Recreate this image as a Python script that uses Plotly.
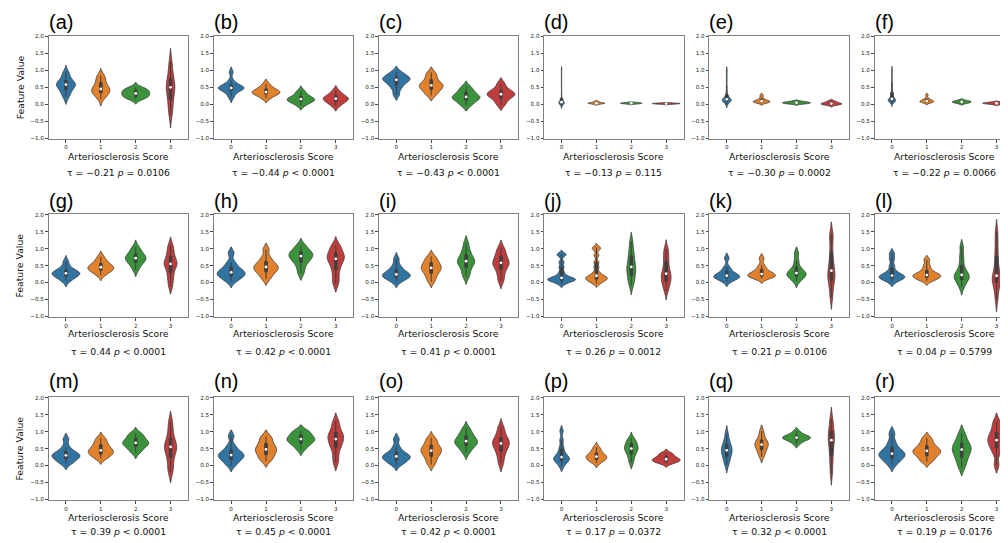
import numpy as np
import plotly.graph_objects as go

PAGE_W, PAGE_H = 1008, 543
OFF = 8                      # default body margin of the html page
W, H = PAGE_W - OFF, PAGE_H - OFF

panel_labels = ["(a)", "(b)", "(c)", "(d)", "(e)", "(f)",
                "(g)", "(h)", "(i)", "(j)", "(k)", "(l)",
                "(m)", "(n)", "(o)", "(p)", "(q)", "(r)"]
categories = [0, 1, 2, 3]
category_text = ["0", "1", "2", "3"]
colors = ["#3274a1", "#e1812c", "#3a923a", "#c03d3e"]

tau = [-0.21, -0.44, -0.43, -0.13, -0.30, -0.22,
       0.44, 0.42, 0.41, 0.26, 0.21, 0.04,
       0.39, 0.45, 0.42, 0.17, 0.32, 0.19]
p_text = ["= 0.0106", "< 0.0001", "< 0.0001", "= 0.115", "= 0.0002", "= 0.0066",
          "< 0.0001", "< 0.0001", "< 0.0001", "= 0.0012", "= 0.0106", "= 0.5799",
          "< 0.0001", "< 0.0001", "< 0.0001", "= 0.0372", "< 0.0001", "= 0.0176"]

ytick_vals = [-1.0, -0.5, 0.0, 0.5, 1.0, 1.5, 2.0]
ytick_text = ["\u22121.0", "\u22120.5", "0.0", "0.5", "1.0", "1.5", "2.0"]

# feature values per score group (0,1,2,3) for each panel
vals_a = [[0.2, 0.3, 0.38, 0.45, 0.5, 0.55, 0.58, 0.6, 0.63, 0.68, 0.75, 0.85, 0.95],
          [0.15, 0.25, 0.3, 0.35, 0.38, 0.42, 0.45, 0.5, 0.55, 0.62, 0.7, 0.8, 0.85],
          [0.15, 0.2, 0.22, 0.25, 0.3, 0.32, 0.35, 0.4, 0.42, 0.45, 0.5],
          [-0.3, -0.1, 0.1, 0.25, 0.4, 0.5, 0.55, 0.65, 0.8, 1.0, 1.25]]
vals_b = [[0.2, 0.3, 0.38, 0.42, 0.45, 0.47, 0.48, 0.5, 0.52, 0.55, 0.6, 0.7, 0.95],
          [0.18, 0.25, 0.3, 0.33, 0.35, 0.37, 0.4, 0.45, 0.5, 0.6],
          [-0.03, 0.03, 0.08, 0.1, 0.13, 0.15, 0.17, 0.2, 0.25, 0.32, 0.4],
          [-0.05, 0.03, 0.08, 0.12, 0.15, 0.18, 0.2, 0.25, 0.3, 0.4]]
vals_c = [[0.28, 0.45, 0.55, 0.62, 0.68, 0.72, 0.75, 0.78, 0.82, 0.88, 0.96],
          [0.26, 0.35, 0.42, 0.48, 0.52, 0.56, 0.6, 0.66, 0.74, 0.84, 0.94],
          [-0.04, 0.05, 0.12, 0.17, 0.2, 0.23, 0.28, 0.35, 0.42, 0.52],
          [-0.02, 0.1, 0.18, 0.24, 0.28, 0.31, 0.35, 0.4, 0.48, 0.62]]
vals_d = [[-0.05, -0.03, -0.02, -0.01, 0.0, 0.01, 0.01, 0.02, 0.02, 0.03, 0.03, 0.03, 0.04,
           0.04, 0.04, 0.05, 0.05, 0.05, 0.06, 0.06, 0.06, 0.07, 0.07, 0.08, 0.08, 0.09, 0.1,
           0.11, 0.13, 0.15, 0.2, 0.3, 0.4, 0.5, 0.6, 0.7, 0.8, 0.9, 1.0, 1.04],
          [-0.005, 0.01, 0.02, 0.025, 0.03, 0.035, 0.04, 0.05, 0.065, 0.09],
          [0.005, 0.015, 0.022, 0.028, 0.033, 0.038, 0.045, 0.055],
          [0.0, 0.008, 0.014, 0.018, 0.022, 0.026, 0.031, 0.038]]
vals_e = [[-0.02, 0.01, 0.03, 0.05, 0.06, 0.07, 0.08, 0.09, 0.1, 0.1, 0.11, 0.11, 0.12, 0.12,
           0.13, 0.13, 0.14, 0.14, 0.15, 0.16, 0.17, 0.18, 0.19, 0.2, 0.22, 0.24, 0.27, 0.3,
           0.36, 0.45, 0.55, 0.65, 0.75, 0.85, 0.95, 1.02],
          [0.03, 0.05, 0.06, 0.07, 0.08, 0.09, 0.1, 0.12, 0.15, 0.2, 0.27],
          [0.01, 0.02, 0.03, 0.04, 0.05, 0.06, 0.07, 0.09],
          [-0.03, -0.01, 0.0, 0.01, 0.02, 0.03, 0.05, 0.07, 0.1]]
vals_f = [[0.02, 0.04, 0.06, 0.07, 0.08, 0.09, 0.1, 0.1, 0.11, 0.11, 0.12, 0.12, 0.13, 0.13,
           0.14, 0.15, 0.16, 0.17, 0.18, 0.2, 0.22, 0.25, 0.28, 0.32, 0.38, 0.45, 0.55, 0.65,
           0.75, 0.85, 0.95, 1.03],
          [0.04, 0.06, 0.07, 0.08, 0.09, 0.1, 0.12, 0.14, 0.18, 0.27],
          [0.02, 0.04, 0.05, 0.06, 0.07, 0.08, 0.09, 0.1, 0.12],
          [0.0, 0.01, 0.02, 0.025, 0.03, 0.035, 0.04, 0.05, 0.06]]
vals_g = [[0.05, 0.12, 0.18, 0.22, 0.25, 0.27, 0.29, 0.32, 0.38, 0.45, 0.62],
          [0.22, 0.3, 0.35, 0.38, 0.42, 0.45, 0.48, 0.52, 0.58, 0.65, 0.76],
          [0.38, 0.5, 0.58, 0.64, 0.68, 0.72, 0.76, 0.8, 0.86, 0.95, 1.05],
          [-0.1, 0.1, 0.25, 0.4, 0.5, 0.55, 0.6, 0.7, 0.8, 0.95, 1.1]]
vals_h = [[0.03, 0.12, 0.18, 0.22, 0.26, 0.3, 0.34, 0.4, 0.48, 0.6, 0.87],
          [0.1, 0.22, 0.3, 0.36, 0.41, 0.46, 0.5, 0.56, 0.64, 0.76, 0.98],
          [0.27, 0.45, 0.58, 0.66, 0.72, 0.78, 0.82, 0.86, 0.92, 1.0, 1.1],
          [-0.04, 0.15, 0.35, 0.5, 0.6, 0.7, 0.75, 0.8, 0.9, 1.0, 1.11]]
vals_i = [[0.03, 0.1, 0.15, 0.18, 0.21, 0.24, 0.27, 0.32, 0.4, 0.5, 0.7],
          [0.03, 0.15, 0.25, 0.32, 0.38, 0.43, 0.48, 0.53, 0.6, 0.68, 0.77],
          [0.17, 0.3, 0.43, 0.52, 0.58, 0.63, 0.68, 0.75, 0.85, 0.97, 1.16],
          [0.04, 0.2, 0.35, 0.45, 0.52, 0.58, 0.63, 0.7, 0.8, 0.9, 1.03]]
vals_j = [[-0.04, 0.02, 0.05, 0.07, 0.09, 0.1, 0.12, 0.15, 0.2, 0.3, 0.45, 0.6, 0.8, 0.84],
          [-0.03, 0.03, 0.07, 0.1, 0.12, 0.15, 0.18, 0.22, 0.3, 0.45, 0.6, 0.8, 0.98, 1.04],
          [-0.1, 0.05, 0.15, 0.25, 0.35, 0.42, 0.5, 0.6, 0.72, 0.85, 1.0, 1.22],
          [-0.25, -0.1, 0.0, 0.08, 0.15, 0.22, 0.3, 0.4, 0.55, 0.7, 0.85, 1.0]]
vals_k = [[0.03, 0.1, 0.13, 0.16, 0.18, 0.2, 0.23, 0.28, 0.35, 0.45, 0.72],
          [0.12, 0.15, 0.18, 0.2, 0.22, 0.25, 0.28, 0.33, 0.4, 0.5, 0.71],
          [0.03, 0.12, 0.17, 0.21, 0.25, 0.28, 0.32, 0.38, 0.48, 0.65, 0.87],
          [-0.45, -0.2, 0.0, 0.1, 0.2, 0.3, 0.4, 0.55, 0.75, 1.0, 1.3, 1.45]]
vals_l = [[0.02, 0.08, 0.12, 0.15, 0.17, 0.19, 0.22, 0.27, 0.35, 0.5, 0.7, 0.86],
          [0.05, 0.1, 0.14, 0.17, 0.2, 0.22, 0.25, 0.3, 0.38, 0.5, 0.67],
          [-0.15, -0.02, 0.06, 0.12, 0.16, 0.2, 0.25, 0.32, 0.42, 0.6, 0.8, 1.05],
          [-0.5, -0.25, -0.05, 0.05, 0.1, 0.15, 0.25, 0.45, 0.65, 0.9, 1.2, 1.5]]
vals_m = [[0.05, 0.12, 0.18, 0.23, 0.27, 0.3, 0.33, 0.37, 0.43, 0.55, 0.78],
          [0.2, 0.27, 0.33, 0.37, 0.41, 0.45, 0.5, 0.56, 0.63, 0.72, 0.82],
          [0.38, 0.47, 0.55, 0.6, 0.64, 0.67, 0.71, 0.76, 0.82, 0.9, 0.95],
          [-0.2, 0.0, 0.2, 0.35, 0.45, 0.55, 0.6, 0.7, 0.85, 1.05, 1.3]]
vals_n = [[0.0, 0.1, 0.17, 0.23, 0.27, 0.31, 0.35, 0.4, 0.48, 0.6, 0.87],
          [0.13, 0.22, 0.3, 0.37, 0.43, 0.48, 0.53, 0.6, 0.68, 0.78, 0.87],
          [0.47, 0.58, 0.65, 0.7, 0.74, 0.78, 0.82, 0.86, 0.92, 1.0, 1.03],
          [0.09, 0.3, 0.5, 0.6, 0.7, 0.78, 0.85, 0.92, 1.0, 1.15, 1.31]]
vals_o = [[0.02, 0.1, 0.15, 0.2, 0.24, 0.27, 0.3, 0.35, 0.42, 0.55, 0.78],
          [0.03, 0.15, 0.25, 0.33, 0.39, 0.44, 0.49, 0.55, 0.62, 0.72, 0.82],
          [0.38, 0.5, 0.58, 0.63, 0.68, 0.72, 0.76, 0.82, 0.9, 0.98, 1.1],
          [0.06, 0.25, 0.4, 0.5, 0.58, 0.65, 0.7, 0.76, 0.85, 0.98, 1.14]]
vals_p = [[-0.02, 0.08, 0.13, 0.17, 0.2, 0.23, 0.27, 0.33, 0.42, 0.55, 0.75, 1.02],
          [0.08, 0.14, 0.18, 0.22, 0.25, 0.28, 0.32, 0.37, 0.45, 0.54],
          [0.08, 0.22, 0.32, 0.4, 0.46, 0.5, 0.54, 0.6, 0.66, 0.72, 0.8],
          [0.06, 0.1, 0.13, 0.15, 0.17, 0.2, 0.23, 0.27, 0.33, 0.37]]
vals_q = [[0.02, 0.15, 0.25, 0.32, 0.4, 0.45, 0.5, 0.56, 0.65, 0.75, 0.94],
          [0.26, 0.37, 0.45, 0.52, 0.57, 0.62, 0.66, 0.71, 0.77, 0.88, 1.02],
          [0.63, 0.71, 0.75, 0.78, 0.8, 0.82, 0.84, 0.86, 0.89, 0.93, 1.01],
          [-0.24, 0.05, 0.25, 0.45, 0.6, 0.75, 0.82, 0.9, 1.05, 1.2, 1.38]]
vals_r = [[0.02, 0.14, 0.2, 0.26, 0.31, 0.35, 0.39, 0.45, 0.55, 0.7, 0.95],
          [0.11, 0.2, 0.28, 0.34, 0.39, 0.43, 0.47, 0.53, 0.6, 0.7, 0.82],
          [-0.06, 0.1, 0.22, 0.32, 0.4, 0.47, 0.53, 0.6, 0.68, 0.8, 0.96],
          [0.02, 0.35, 0.5, 0.6, 0.68, 0.75, 0.82, 0.9, 1.0, 1.15, 1.31]]

# KDE bandwidths per violin
bw_a = [0.1, 0.1, 0.07, 0.2]
bw_b = [0.075, 0.07, 0.07, 0.075]
bw_c = [0.08, 0.08, 0.08, 0.08]
bw_d = [0.04, 0.012, 0.011, 0.009]
bw_e = [0.045, 0.03, 0.02, 0.025]
bw_f = [0.045, 0.03, 0.025, 0.02]
bw_g = [0.085, 0.08, 0.1, 0.12]
bw_h = [0.09, 0.09, 0.1, 0.12]
bw_i = [0.09, 0.09, 0.11, 0.11]
bw_j = [0.055, 0.055, 0.13, 0.13]
bw_k = [0.075, 0.07, 0.09, 0.17]
bw_l = [0.07, 0.065, 0.11, 0.18]
bw_m = [0.085, 0.08, 0.085, 0.15]
bw_n = [0.09, 0.09, 0.085, 0.12]
bw_o = [0.085, 0.09, 0.1, 0.12]
bw_p = [0.08, 0.07, 0.09, 0.055]
bw_q = [0.12, 0.09, 0.055, 0.17]
bw_r = [0.1, 0.08, 0.12, 0.12]

panel_vals = [vals_a, vals_b, vals_c, vals_d, vals_e, vals_f, vals_g, vals_h, vals_i,
              vals_j, vals_k, vals_l, vals_m, vals_n, vals_o, vals_p, vals_q, vals_r]
panel_bw = [bw_a, bw_b, bw_c, bw_d, bw_e, bw_f, bw_g, bw_h, bw_i,
            bw_j, bw_k, bw_l, bw_m, bw_n, bw_o, bw_p, bw_q, bw_r]

# ---- layout geometry (page pixels; converted to figure pixels by -OFF) ----
col_left = [48.5 + 165.2 * k for k in range(6)]
ax_w = 139.5
row_top = [33.7, 213.3, 397.7]
ax_h = 104.4
title_dy = [-13.7, -13.3, -16.0]
xlab_dy = [17.3, 16.6, 17.0]
stat_dy = [34.0, 34.2, 31.7]


def px(xp):
    return (xp - OFF) / W


def py(yp):
    return 1 - (yp - OFF) / H


FONT = "DejaVu Sans"
TITLE_FONT = "Liberation Sans"
frame_color = "#808080"
edge = "#3f3f3f"

fig = go.Figure()
layout = dict(width=W, height=H, margin=dict(l=0, r=0, t=0, b=0),
              paper_bgcolor="white", plot_bgcolor="white",
              violinmode="overlay", violingap=0.2, violingroupgap=0,
              showlegend=False)
annotations = []

for i in range(18):
    r, c = divmod(i, 6)
    xa = "x" if i == 0 else f"x{i+1}"
    ya = "y" if i == 0 else f"y{i+1}"
    xkey = "xaxis" if i == 0 else f"xaxis{i+1}"
    ykey = "yaxis" if i == 0 else f"yaxis{i+1}"
    left = col_left[c]
    right = left + ax_w
    cx = left + ax_w / 2.0
    xr_end = 3.5
    if right > PAGE_W:
        xr_end = -0.5 + 4.0 * (PAGE_W - left) / ax_w
        right = PAGE_W
    top = row_top[r]
    bottom = top + ax_h
    last_col = (c == 5)

    layout[xkey] = dict(domain=[px(left), min(1.0, px(right))], anchor=ya, range=[-0.5, xr_end],
                        tickmode="array", tickvals=categories, ticktext=category_text,
                        ticks="outside", ticklen=2.5, tickwidth=0.8, tickcolor="#444",
                        tickfont=dict(family=FONT, size=5.6, color="#222"),
                        showline=True, linecolor=frame_color, linewidth=1, mirror=True,
                        showgrid=False, zeroline=False, fixedrange=True)
    layout[ykey] = dict(domain=[py(bottom), py(top)], anchor=xa, range=[-1.03, 2.03],
                        tickmode="array", tickvals=ytick_vals, ticktext=ytick_text,
                        ticks="outside", ticklen=2.5, tickwidth=0.8, tickcolor="#444",
                        tickfont=dict(family=FONT, size=5.6, color="#222"),
                        showline=True, linecolor=frame_color, linewidth=1,
                        mirror=(not last_col),
                        showgrid=False, zeroline=False, fixedrange=True)

    vals = panel_vals[i]
    bws = panel_bw[i]
    meds = []
    for k in categories:
        fig.add_trace(go.Violin(
            x0=k, y=vals[k], bandwidth=bws[k],
            scalegroup=f"g{i}", scalemode="width", spanmode="soft",
            fillcolor=colors[k], opacity=1,
            line=dict(color=edge, width=0.8),
            box=dict(visible=True, width=0.09, fillcolor=edge,
                     line=dict(color=edge, width=1)),
            meanline=dict(visible=False), points=False,
            hoverinfo="skip", xaxis=xa, yaxis=ya, showlegend=False))
        meds.append(float(np.median(vals[k])))
    fig.add_trace(go.Scatter(x=categories, y=meds, mode="markers",
                             marker=dict(color="white", size=2.8, line=dict(width=0)),
                             hoverinfo="skip", xaxis=xa, yaxis=ya, showlegend=False))

    annotations.append(dict(text=panel_labels[i], x=px(left - 2), y=py(top + title_dy[r]),
                            xref="paper", yref="paper", xanchor="left", yanchor="middle",
                            showarrow=False, font=dict(family=TITLE_FONT, size=20, color="black")))
    annotations.append(dict(text="Arteriosclerosis Score", x=px(cx), y=py(bottom + xlab_dy[r]),
                            xref="paper", yref="paper", xanchor="center", yanchor="middle",
                            showarrow=False, font=dict(family=FONT, size=9.3, color="#111")))
    tau_s = f"{tau[i]:.2f}".replace("-", "\u2212")
    annotations.append(dict(text=f"\u03c4 = {tau_s} <i>p</i> {p_text[i]}", x=px(cx),
                            y=py(bottom + stat_dy[r]),
                            xref="paper", yref="paper", xanchor="center", yanchor="middle",
                            showarrow=False, font=dict(family=FONT, size=9.3, color="#111")))
    if c == 0:
        annotations.append(dict(text="Feature Value", x=px(20), y=py(top + ax_h / 2),
                                xref="paper", yref="paper", xanchor="center", yanchor="middle",
                                textangle=-90, showarrow=False,
                                font=dict(family=FONT, size=9.3, color="#111")))

layout["annotations"] = annotations
fig.update_layout(**layout)
fig.write_html("out.html", config={"displayModeBar": False})
